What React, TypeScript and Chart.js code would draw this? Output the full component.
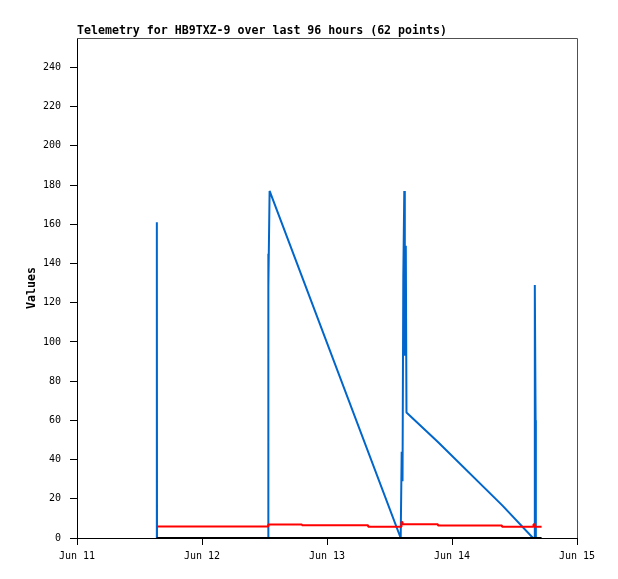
import React, { useEffect, useRef } from "react";
import { Chart, registerables } from "chart.js";

Chart.register(...registerables);

// Hours since Jun 11 00:00
const dayLabels = ["Jun 11", "Jun 12", "Jun 13", "Jun 14", "Jun 15"];

const blueHours = [15.33, 15.33, 15.36, 36.72, 36.72, 36.76, 36.98, 62.15, 62.34, 62.5, 62.65, 62.84, 62.94, 63.13, 63.26, 69.3, 81.7, 87.55, 87.85, 87.9, 88.05, 88.1];
const blueValues = [0, 161, 0, 0, 145, 128, 177, 0, 44, 29, 133, 177, 93, 149, 64, 49, 16.5, 0, 0, 129, 60, 0];

const redHours = [15.36, 36.72, 36.72, 43.2, 43.2, 55.9, 55.9, 62.3, 62.3, 62.5, 62.5, 69.3, 69.3, 81.6, 81.6, 87.65, 87.65, 87.85, 87.85, 89.2];
const redValues = [5.9, 5.9, 6.9, 6.9, 6.5, 6.5, 5.8, 5.8, 8.2, 8.2, 7.0, 7.0, 6.4, 6.4, 5.8, 5.8, 7.0, 7.0, 5.8, 5.8];

const blackHours = [15.3, 89.2];
const blackValues = [0, 0];

const FONT = "'DejaVu Sans Mono', monospace";

const toPoints = (xs: number[], ys: number[]) => xs.map((x, i) => ({ x, y: ys[i] }));

const framePlugin = {
  id: "frame",
  beforeDatasetsDraw(chart: any) {
    const { ctx, chartArea } = chart;
    const { left, right, top, bottom } = chartArea;
    ctx.save();
    ctx.strokeStyle = "#505050";
    ctx.lineWidth = 1;
    ctx.beginPath();
    ctx.moveTo(left, Math.floor(top) + 0.5);
    ctx.lineTo(Math.floor(right) + 0.5, Math.floor(top) + 0.5);
    ctx.lineTo(Math.floor(right) + 0.5, bottom);
    ctx.stroke();
    ctx.restore();
  },
};

export default function App() {
  const ref = useRef<HTMLCanvasElement | null>(null);

  useEffect(() => {
    if (!ref.current) return;
    const lineCommon = { borderWidth: 2, pointRadius: 0, tension: 0, borderJoinStyle: "bevel" as const };
    const chart = new Chart(ref.current, {
      type: "line",
      data: {
        datasets: [
          { label: "zero", data: toPoints(blackHours, blackValues), borderColor: "#000000", order: 0, ...lineCommon },
          { label: "red", data: toPoints(redHours, redValues), borderColor: "#ff0000", order: 1, ...lineCommon },
          { label: "blue", data: toPoints(blueHours, blueValues), borderColor: "#0066cc", order: 2, ...lineCommon },
        ],
      },
      options: {
        animation: false,
        responsive: false,
        devicePixelRatio: 1,
        layout: { padding: { left: 0, right: 41, top: 0, bottom: 0 } },
        plugins: {
          legend: { display: false },
          tooltip: { enabled: false },
          title: {
            display: true,
            text: "Telemetry for HB9TXZ-9 over last 96 hours (62 points)",
            align: "start",
            fullSize: false,
            color: "#000",
            font: { family: FONT, size: 11.6, weight: "bold", lineHeight: 1.2 },
            padding: { top: 23.8, bottom: 0.28 },
          },
        },
        scales: {
          x: {
            type: "linear",
            min: 0,
            max: 96,
            afterFit: (s: any) => {
              s.height = 41;
            },
            grid: {
              drawOnChartArea: false,
              drawTicks: true,
              tickLength: 7,
              tickColor: "#000",
              tickWidth: 1,
            },
            border: { display: true, color: "#000", width: 1 },
            ticks: {
              stepSize: 24,
              autoSkip: false,
              maxRotation: 0,
              padding: 5,
              color: "#000",
              font: { family: FONT, size: 10 },
              callback: (v: any) => dayLabels[Math.round(Number(v) / 24)] ?? "",
            },
          },
          y: {
            type: "linear",
            min: 0,
            max: 255,
            afterFit: (s: any) => {
              s.width = 77;
            },
            grid: {
              drawOnChartArea: false,
              drawTicks: true,
              tickLength: 7,
              tickColor: "#000",
              tickWidth: 1,
            },
            border: { display: true, color: "#000", width: 1 },
            ticks: {
              stepSize: 20,
              includeBounds: false,
              padding: 9,
              color: "#000",
              font: { family: FONT, size: 10 },
            },
            title: {
              display: true,
              text: "Values",
              color: "#000",
              font: { family: FONT, size: 11.6, weight: "bold", lineHeight: 1.2 },
              padding: { top: 24.6, bottom: 0 },
            },
          },
        },
      },
      plugins: [framePlugin],
    });
    return () => chart.destroy();
  }, []);

  return (
    <div style={{ position: "absolute", left: 0, top: 0, width: 618, height: 579, background: "#fff" }}>
      <canvas ref={ref} width={618} height={579} style={{ display: "block", width: 618, height: 579 }} />
    </div>
  );
}
